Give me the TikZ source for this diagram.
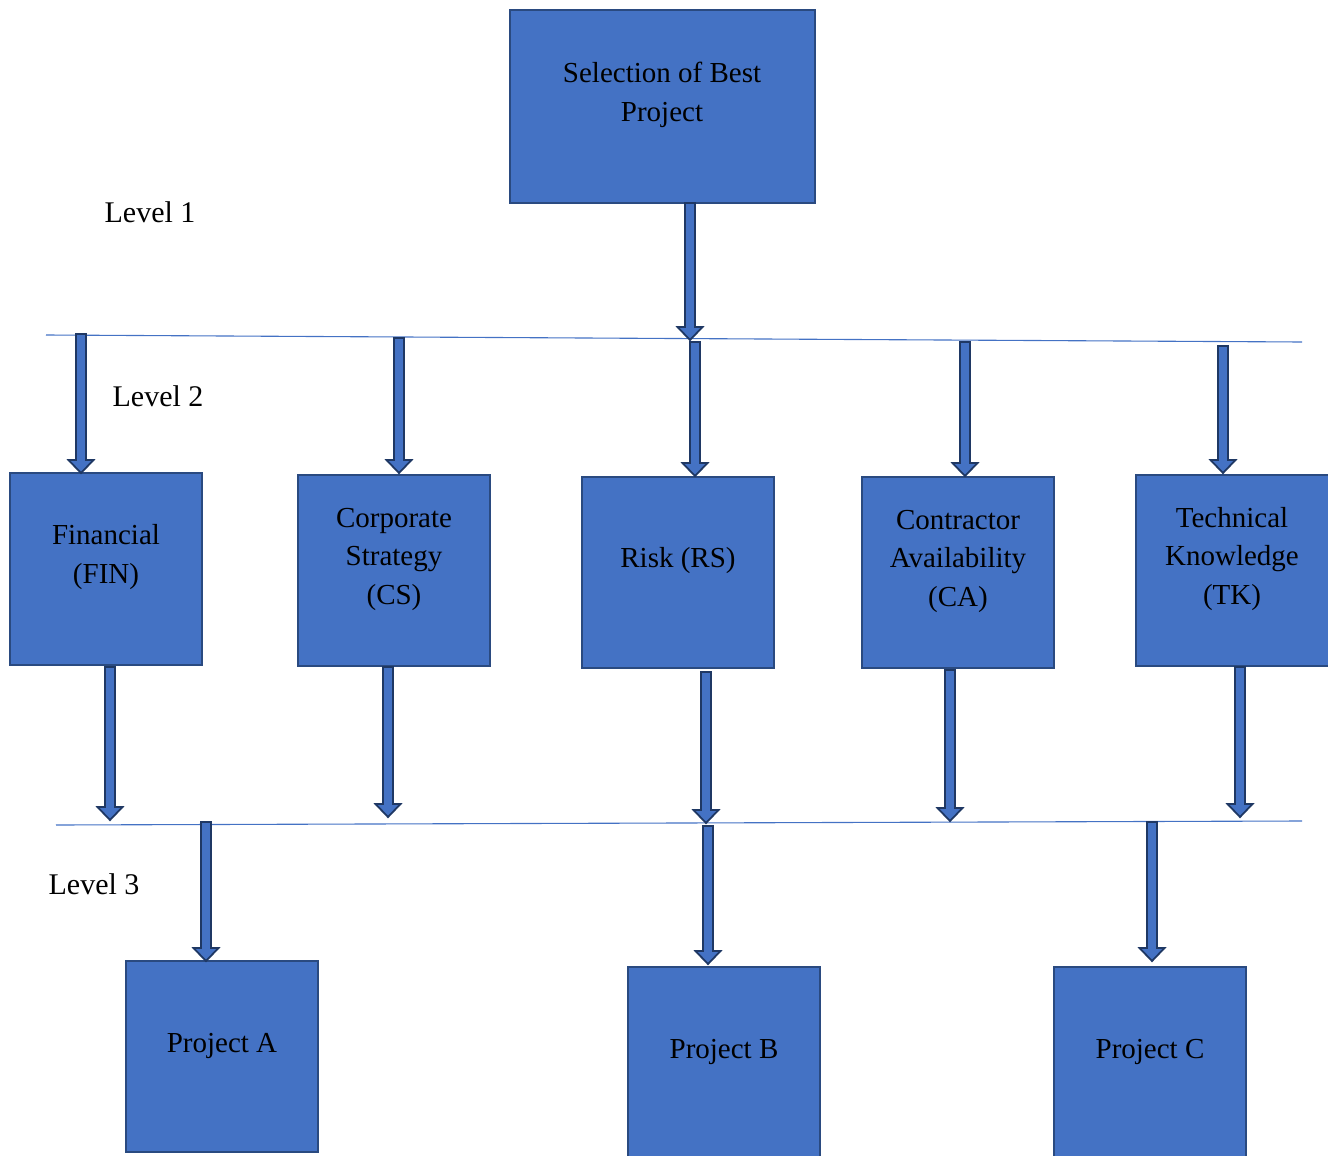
\documentclass[tikz,border=0pt]{standalone}
\usepackage{fontspec}
\setmainfont{Liberation Serif}
\usetikzlibrary{calc}
\definecolor{boxfill}{HTML}{4472C4}
\definecolor{boxline}{HTML}{2A4A80}
\definecolor{arrline}{HTML}{1F3864}
\definecolor{hline}{HTML}{4472C4}
\tikzset{
  blk/.style={draw=boxline, line width=2.4pt, fill=boxfill, inner sep=0pt},
  boxtext/.style={font=\fontsize{29}{38.5}\selectfont, align=center, text=black},
  lvl/.style={font=\fontsize{30}{36}\selectfont, text=black},
  levelline/.style={draw=hline, line width=1.1pt},
  barr/.style={draw=arrline, line width=1.8pt, fill=boxfill, line join=miter}
}
\newcommand\blockarrow[2]{%
  \path[barr] let \p1=(#1), \p2=(#2) in
    (\x1-5pt,\y1) -- (\x1+5pt,\y1) -- (\x1+5pt,\y2+13pt) -- (\x1+12.5pt,\y2+13pt)
    -- (\x1,\y2) -- (\x1-12.5pt,\y2+13pt) -- (\x1-5pt,\y2+13pt) -- cycle;}
\begin{document}
\begin{tikzpicture}[x=1pt,y=-1pt]
\useasboundingbox (0,0) rectangle (1328,1156);
% boxes
\path[blk] (510,10) rectangle (815,203);
\node[boxtext] (top) at (662,95) {Selection of Best\\Project};
\path[blk] (10,473) rectangle (202,665);
\node[boxtext] (fin) at (106,557) {Financial\\(FIN)};
\path[blk] (298,475) rectangle (490,666);
\node[boxtext] (cs) at (394,559) {Corporate\\Strategy\\(CS)};
\path[blk] (582,477) rectangle (774,668);
\node[boxtext] (rs) at (678,561) {Risk (RS)};
\path[blk] (862,477) rectangle (1054,668);
\node[boxtext] (ca) at (958,561) {Contractor\\Availability\\(CA)};
\path[blk] (1136,475) rectangle (1329,666);
\node[boxtext] (tk) at (1232,559) {Technical\\Knowledge\\(TK)};
\path[blk] (126,961) rectangle (318,1152);
\node[boxtext] (pa) at (222,1046) {Project A};
\path[blk] (628,967) rectangle (820,1160);
\node[boxtext] (pb) at (724,1052) {Project B};
\path[blk] (1054,967) rectangle (1246,1160);
\node[boxtext] (pc) at (1150,1052) {Project C};
% level labels
\node[lvl] (l1) at (150,212) {Level 1};
\node[lvl] (l2) at (158,396) {Level 2};
\node[lvl] (l3) at (94,884) {Level 3};
% level lines
\coordinate (la) at (46,335);
\coordinate (lb) at (1302,342);
\coordinate (lc) at (56,825);
\coordinate (ld) at (1302,821);
\draw[levelline] (la) -- (lb);
\draw[levelline] (lc) -- (ld);
% arrow coordinates
\coordinate (a0s) at (690,203); \coordinate (a0e) at (690,340);
\coordinate (a1s) at (81,334);  \coordinate (a1e) at (81,473);
\coordinate (a2s) at (399,338); \coordinate (a2e) at (399,473);
\coordinate (a3s) at (695,342); \coordinate (a3e) at (695,476);
\coordinate (a4s) at (965,342); \coordinate (a4e) at (965,476);
\coordinate (a5s) at (1223,346); \coordinate (a5e) at (1223,473);
\coordinate (b1s) at (110,667); \coordinate (b1e) at (110,820);
\coordinate (b2s) at (388,667); \coordinate (b2e) at (388,817);
\coordinate (b3s) at (706,672); \coordinate (b3e) at (706,823);
\coordinate (b4s) at (950,670); \coordinate (b4e) at (950,821);
\coordinate (b5s) at (1240,667); \coordinate (b5e) at (1240,817);
\coordinate (c1s) at (206,822); \coordinate (c1e) at (206,961);
\coordinate (c2s) at (708,826); \coordinate (c2e) at (708,964);
\coordinate (c3s) at (1152,822); \coordinate (c3e) at (1152,961);
\blockarrow{a0s}{a0e}
\blockarrow{a1s}{a1e}
\blockarrow{a2s}{a2e}
\blockarrow{a3s}{a3e}
\blockarrow{a4s}{a4e}
\blockarrow{a5s}{a5e}
\blockarrow{b1s}{b1e}
\blockarrow{b2s}{b2e}
\blockarrow{b3s}{b3e}
\blockarrow{b4s}{b4e}
\blockarrow{b5s}{b5e}
\blockarrow{c1s}{c1e}
\blockarrow{c2s}{c2e}
\blockarrow{c3s}{c3e}
\end{tikzpicture}
\end{document}
